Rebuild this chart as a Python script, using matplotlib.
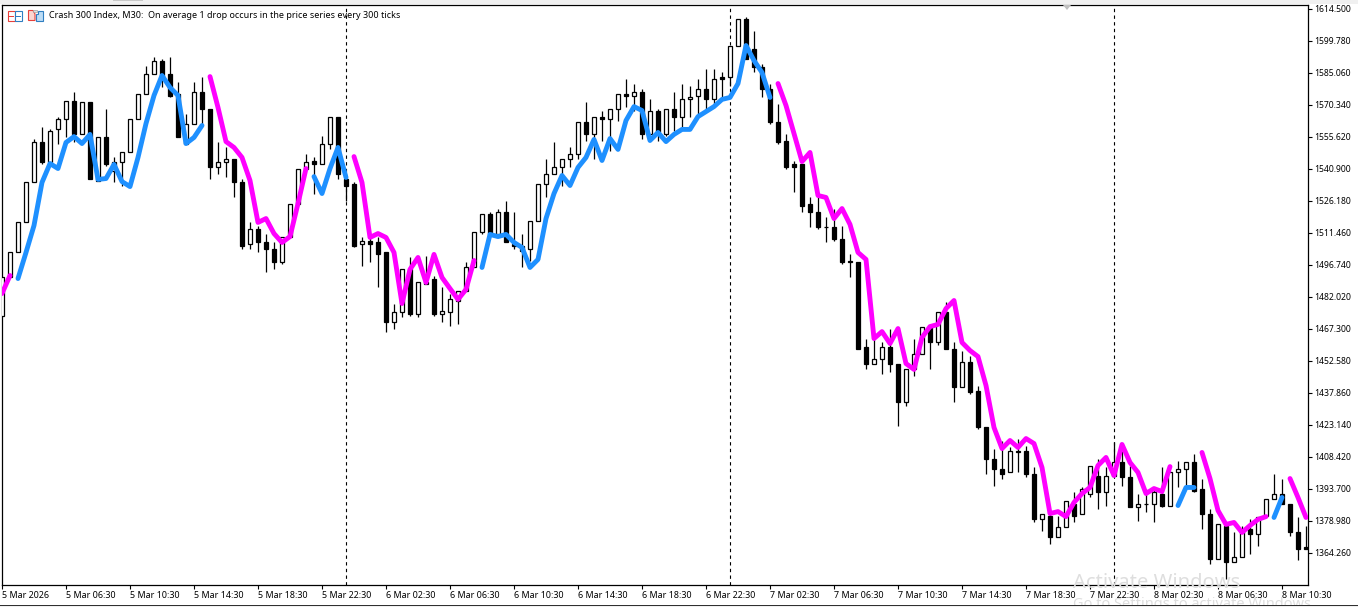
"""Crash 300 Index M30 candles with the two-colour trend line, MT5 look."""

import matplotlib
matplotlib.use("Agg")
import matplotlib.pyplot as plt
from matplotlib.patches import Polygon, Rectangle
from matplotlib.transforms import Affine2D

W, H = 1358, 607
FONT = "Noto Sans"
UP_BLUE = "#1e90ff"
DOWN_MAGENTA = "#ff00ff"

opens = [
    1473.4, 1490.9, 1502.4, 1516.2, 1534.6, 1553.0, 1543.8, 1559.0, 1564.0, 1572.3, 1557.1, 1571.4,
    1535.5, 1555.3, 1540.1, 1544.2, 1548.4, 1564.0, 1575.5, 1584.3, 1590.7, 1584.7, 1575.1, 1552.5,
    1561.3, 1576.4, 1568.2, 1541.9, 1543.8, 1545.2, 1534.6, 1506.1, 1513.0, 1507.4, 1504.2, 1498.2,
    1509.3, 1524.5, 1540.6, 1544.7, 1543.3, 1552.5, 1564.9, 1536.0, 1533.7, 1506.1, 1507.9, 1507.0,
    1502.4, 1470.2, 1474.8, 1494.6, 1474.3, 1488.1, 1490.4, 1474.3, 1475.2, 1480.3, 1484.9, 1495.5,
    1511.6, 1519.9, 1511.1, 1520.8, 1506.5, 1505.6, 1504.2, 1517.1, 1534.1, 1538.3, 1541.5, 1545.2,
    1547.9, 1562.6, 1557.1, 1564.5, 1563.6, 1568.6, 1575.1, 1574.6, 1576.0, 1557.1, 1567.7, 1557.1,
    1568.2, 1564.5, 1573.2, 1574.6, 1577.8, 1572.8, 1582.9, 1582.9, 1597.6, 1609.6, 1595.8, 1587.9,
    1577.4, 1562.6, 1553.9, 1542.9, 1542.9, 1524.5, 1521.2, 1514.3, 1514.3, 1508.8, 1498.7, 1498.2,
    1458.7, 1451.3, 1453.6, 1458.7, 1451.3, 1433.4, 1448.6, 1455.5, 1467.9, 1461.0, 1474.8, 1458.2,
    1440.7, 1452.2, 1438.9, 1422.3, 1407.6, 1403.0, 1401.2, 1411.3, 1411.3, 1400.7, 1379.6, 1381.4,
    1371.3, 1376.3, 1386.9, 1382.3, 1391.5, 1399.8, 1392.0, 1399.8, 1406.2, 1399.3, 1385.5, 1386.9,
    1386.9, 1391.5, 1386.0, 1401.2, 1402.6, 1405.8, 1393.4, 1382.3, 1361.6, 1376.8, 1360.2, 1362.1,
    1375.0, 1373.1, 1381.4, 1388.8, 1391.5, 1386.9, 1374.0, 1366.7,
]
highs = [
    1490.9, 1502.4, 1516.2, 1534.6, 1554.4, 1559.9, 1559.4, 1564.9, 1572.3, 1576.0, 1571.4, 1571.4,
    1555.3, 1568.2, 1546.5, 1548.4, 1564.0, 1575.5, 1588.4, 1592.5, 1591.2, 1592.1, 1581.0, 1566.3,
    1581.0, 1582.9, 1568.2, 1553.4, 1551.1, 1545.2, 1536.4, 1516.2, 1514.8, 1510.7, 1507.0, 1509.7,
    1524.5, 1540.6, 1547.5, 1546.1, 1556.2, 1564.5, 1564.9, 1538.7, 1534.6, 1509.3, 1509.3, 1509.3,
    1502.4, 1478.9, 1494.6, 1500.1, 1489.0, 1501.0, 1491.8, 1486.3, 1483.5, 1484.9, 1498.2, 1512.0,
    1519.9, 1521.2, 1522.6, 1526.3, 1521.2, 1510.7, 1517.1, 1534.1, 1545.6, 1553.4, 1545.2, 1550.7,
    1562.6, 1571.8, 1564.5, 1567.7, 1568.6, 1575.1, 1582.0, 1580.1, 1577.8, 1573.2, 1568.6, 1568.2,
    1576.4, 1579.7, 1579.2, 1582.4, 1587.0, 1586.6, 1585.6, 1597.6, 1609.6, 1610.9, 1604.5, 1589.3,
    1579.7, 1570.5, 1556.7, 1544.7, 1542.9, 1528.1, 1528.6, 1518.5, 1522.6, 1514.8, 1501.9, 1498.2,
    1462.8, 1465.1, 1461.0, 1467.4, 1451.3, 1448.6, 1462.8, 1468.3, 1468.8, 1474.8, 1479.4, 1461.0,
    1457.3, 1455.0, 1441.2, 1422.3, 1412.2, 1415.9, 1412.7, 1416.8, 1413.6, 1403.9, 1382.3, 1381.9,
    1381.4, 1388.3, 1392.4, 1394.3, 1404.4, 1407.6, 1403.5, 1415.0, 1413.6, 1404.4, 1391.5, 1393.8,
    1393.8, 1403.5, 1402.1, 1406.7, 1405.8, 1409.5, 1398.4, 1384.2, 1377.3, 1378.2, 1374.0, 1376.8,
    1379.6, 1380.9, 1389.2, 1400.7, 1398.4, 1386.9, 1380.9, 1376.8,
]
lows = [
    1473.4, 1490.9, 1502.4, 1516.2, 1534.6, 1542.9, 1543.3, 1552.5, 1555.3, 1553.0, 1557.1, 1536.0,
    1535.5, 1542.4, 1534.6, 1533.2, 1548.4, 1564.0, 1575.5, 1584.3, 1578.3, 1574.1, 1555.7, 1552.5,
    1561.3, 1560.8, 1536.4, 1538.7, 1536.9, 1527.7, 1503.8, 1503.8, 1502.4, 1493.2, 1495.0, 1496.9,
    1509.3, 1524.5, 1540.6, 1529.5, 1543.3, 1549.8, 1536.4, 1526.3, 1505.1, 1496.4, 1498.2, 1486.7,
    1466.0, 1467.4, 1472.9, 1473.4, 1472.9, 1488.1, 1473.4, 1470.2, 1468.8, 1469.3, 1484.9, 1495.5,
    1510.7, 1511.1, 1511.1, 1507.0, 1504.2, 1495.9, 1498.7, 1517.1, 1527.7, 1538.3, 1533.2, 1541.5,
    1545.6, 1553.9, 1545.2, 1553.9, 1549.3, 1563.1, 1569.1, 1567.7, 1554.4, 1557.1, 1553.9, 1556.2,
    1558.5, 1559.4, 1564.5, 1566.3, 1568.6, 1570.0, 1573.2, 1579.2, 1597.6, 1591.2, 1585.6, 1574.1,
    1561.3, 1552.1, 1540.6, 1530.4, 1521.2, 1513.9, 1513.0, 1507.4, 1507.9, 1497.3, 1491.3, 1457.8,
    1449.0, 1451.3, 1446.7, 1447.6, 1422.8, 1432.0, 1445.8, 1455.5, 1449.0, 1460.0, 1457.8, 1433.8,
    1440.7, 1437.5, 1421.0, 1400.3, 1395.2, 1398.4, 1401.2, 1401.2, 1399.3, 1378.2, 1374.5, 1368.5,
    1371.3, 1376.3, 1378.2, 1382.3, 1389.7, 1384.6, 1386.0, 1399.8, 1395.2, 1385.1, 1379.1, 1382.8,
    1378.2, 1385.1, 1386.0, 1394.3, 1395.2, 1392.4, 1375.4, 1359.3, 1361.6, 1352.0, 1359.8, 1362.1,
    1363.9, 1367.6, 1381.4, 1388.8, 1386.5, 1372.2, 1361.1, 1365.8,
]
closes = [
    1490.9, 1502.4, 1516.2, 1534.6, 1553.0, 1543.8, 1558.5, 1564.0, 1572.3, 1556.7, 1571.4, 1536.0,
    1555.3, 1542.9, 1544.2, 1548.4, 1564.0, 1575.5, 1584.3, 1590.7, 1582.9, 1574.6, 1555.7, 1561.3,
    1576.4, 1568.2, 1541.5, 1543.8, 1545.2, 1534.6, 1505.6, 1513.0, 1507.0, 1503.8, 1498.2, 1509.3,
    1524.5, 1540.6, 1544.2, 1542.9, 1552.5, 1564.5, 1538.3, 1533.2, 1505.6, 1507.9, 1506.5, 1501.9,
    1470.2, 1474.8, 1494.6, 1474.3, 1489.0, 1489.0, 1473.9, 1475.7, 1480.8, 1484.9, 1495.9, 1512.0,
    1519.9, 1511.1, 1520.8, 1507.0, 1505.6, 1503.3, 1517.1, 1534.1, 1538.3, 1541.9, 1545.2, 1547.9,
    1562.6, 1557.1, 1564.5, 1563.6, 1568.6, 1575.1, 1574.6, 1576.0, 1557.1, 1567.7, 1558.0, 1568.2,
    1564.5, 1573.2, 1574.1, 1577.8, 1572.8, 1582.4, 1582.0, 1597.6, 1609.6, 1591.6, 1587.5, 1577.4,
    1562.2, 1553.4, 1541.9, 1541.9, 1524.0, 1520.8, 1513.9, 1513.9, 1508.4, 1498.2, 1497.8, 1458.2,
    1451.3, 1453.6, 1458.7, 1451.3, 1433.4, 1448.6, 1455.5, 1467.9, 1461.0, 1474.8, 1457.8, 1440.7,
    1452.2, 1438.4, 1421.9, 1407.2, 1402.6, 1400.7, 1411.3, 1410.8, 1400.3, 1379.6, 1382.3, 1371.3,
    1376.3, 1388.3, 1381.4, 1393.8, 1404.4, 1392.0, 1399.8, 1406.2, 1398.9, 1385.5, 1386.9, 1386.5,
    1392.4, 1386.0, 1401.2, 1402.6, 1405.8, 1392.9, 1382.3, 1361.6, 1377.3, 1360.2, 1362.1, 1373.6,
    1372.7, 1380.9, 1389.2, 1391.5, 1386.9, 1373.6, 1366.2, 1366.2,
]

trend = [
    1483.5, 1491.8, 1490.4, 1502.4, 1514.8, 1534.6, 1543.3, 1541.0, 1553.0, 1555.7, 1552.5, 1556.7,
    1536.0, 1536.4, 1542.9, 1535.0, 1532.7, 1546.1, 1561.7, 1574.6, 1583.8, 1578.3, 1574.6, 1552.5,
    1555.3, 1560.8, 1583.3, 1569.1, 1553.4, 1550.7, 1546.1, 1535.5, 1516.2, 1518.0, 1511.1, 1507.0,
    1509.7, 1524.9, 1541.0, 1537.3, 1529.5, 1541.0, 1550.7, 1536.9, 1546.5, 1534.6, 1509.3, 1511.1,
    1509.3, 1502.4, 1478.9, 1494.6, 1500.1, 1488.6, 1501.5, 1490.9, 1485.8, 1480.8, 1485.4, 1498.7,
    1495.5, 1510.7, 1509.7, 1510.7, 1507.0, 1504.7, 1495.5, 1499.2, 1518.0, 1529.5, 1537.8, 1533.2,
    1541.5, 1546.1, 1554.4, 1544.7, 1554.8, 1549.8, 1563.1, 1569.5, 1567.7, 1553.9, 1557.6, 1553.4,
    1556.7, 1559.0, 1559.0, 1564.9, 1567.2, 1569.5, 1572.8, 1573.7, 1580.1, 1597.6, 1590.7, 1585.2,
    1573.7, 1580.1, 1570.0, 1557.1, 1544.2, 1548.4, 1528.6, 1527.7, 1518.0, 1522.6, 1515.3, 1502.4,
    1499.2, 1462.8, 1466.0, 1460.5, 1467.4, 1451.3, 1448.6, 1463.3, 1468.3, 1469.3, 1476.6, 1480.3,
    1461.0, 1457.3, 1454.5, 1441.2, 1421.9, 1412.2, 1415.9, 1412.7, 1416.8, 1414.5, 1403.5, 1382.3,
    1383.2, 1380.9, 1387.4, 1391.5, 1394.3, 1404.4, 1408.1, 1399.8, 1414.1, 1405.8, 1401.2, 1391.5,
    1393.8, 1392.4, 1403.9, 1386.0, 1394.3, 1394.3, 1410.4, 1398.4, 1383.7, 1377.3, 1378.2, 1373.6,
    1376.8, 1379.6, 1380.9, 1380.5, 1389.7, 1398.4, 1389.7, 1380.5,
]
# first bar of each coloured run of the trend line
seg_starts = [0, 2, 26, 39, 44, 60, 97, 147, 150, 159, 161]
seg_colors = [DOWN_MAGENTA, UP_BLUE, DOWN_MAGENTA, UP_BLUE, DOWN_MAGENTA, UP_BLUE,
              DOWN_MAGENTA, UP_BLUE, DOWN_MAGENTA, UP_BLUE, DOWN_MAGENTA]

period_bars = [43, 91, 139]

price_ticks = [1614.50, 1599.78, 1585.06, 1570.34, 1555.62, 1540.90, 1526.18, 1511.46, 1496.74,
               1482.02, 1467.30, 1452.58, 1437.86, 1423.14, 1408.42, 1393.70, 1378.98, 1364.26]
time_labels = ["5 Mar 2026", "5 Mar 06:30", "5 Mar 10:30", "5 Mar 14:30", "5 Mar 18:30", "5 Mar 22:30",
               "6 Mar 02:30", "6 Mar 06:30", "6 Mar 10:30", "6 Mar 14:30", "6 Mar 18:30", "6 Mar 22:30",
               "7 Mar 02:30", "7 Mar 06:30", "7 Mar 10:30", "7 Mar 14:30", "7 Mar 18:30", "7 Mar 22:30",
               "8 Mar 02:30", "8 Mar 06:30", "8 Mar 10:30"]
title = "Crash 300 Index, M30:  On average 1 drop occurs in the price series every 300 ticks"

fig = plt.figure(figsize=(W / 100, H / 100), dpi=100, facecolor="white")

# screen pixels, y going down, for the terminal chrome
px = Affine2D().scale(1, -1).translate(0, H)

ax = fig.add_axes([2.0 / W, 1 - 584.5 / H, (1308.0 - 2.0) / W, (584.5 - 4.5) / H])
ax.set_xlim(0, (1308.0 - 2.0) / 8)
ax.set_ylim(1349.66, 1616.46)
ax.patch.set_alpha(0)

# ---------------------------------------------------------------
# Candles
# ---------------------------------------------------------------
bars = range(len(opens))
ax.vlines(bars, lows, highs, color="black", lw=0.9, zorder=2)
for i in bars:
    up = closes[i] >= opens[i]
    ax.bar(i, abs(closes[i] - opens[i]), bottom=min(opens[i], closes[i]), width=0.5,
           facecolor="white" if up else "black", edgecolor="black", lw=0.9, zorder=3)

for b in period_bars:
    ax.axvline(b, color="black", lw=0.8, dashes=(3, 3), zorder=1)

# ---------------------------------------------------------------
# Trend line, broken where the colour flips
# ---------------------------------------------------------------
ends = seg_starts[1:] + [len(trend)]
for start, end, col in zip(seg_starts, ends, seg_colors):
    ax.plot(range(start, end), trend[start:end], color=col, lw=3.5, zorder=4,
            solid_capstyle="round", solid_joinstyle="round")

# ---------------------------------------------------------------
# Axes
# ---------------------------------------------------------------
for s in ax.spines.values():
    s.set_linewidth(0.9)
ax.yaxis.tick_right()
ax.set_yticks(price_ticks)
ax.set_yticklabels([f"{p:.3f}" for p in price_ticks], fontsize=6.2, family=FONT)
ax.set_xticks(range(0, len(time_labels) * 8, 8))
ax.set_xticklabels(time_labels, fontsize=6.45, family=FONT, ha="left")
ax.tick_params(axis="y", length=3.2, width=0.8, pad=1.5)
ax.tick_params(axis="x", length=3.2, width=0.8, pad=1.5)

fig.text(49 / W, 1 - 16 / H, title, fontsize=6.47, family=FONT, va="center", ha="left")

# ---------------------------------------------------------------
# Terminal chrome: toolbar strip, icons, window edge, watermark
# ---------------------------------------------------------------
fig.add_artist(Rectangle((0, 0), W, 4, transform=px, fc="#f0f0f0", ec="none"))
fig.add_artist(Rectangle((113, 0), 30, 1, transform=px, fc="#c8c8c8", ec="none"))
fig.add_artist(Polygon([(1063, 5), (1071, 5), (1067, 10)], transform=px, fc="#c0c0c0", ec="none"))

fig.add_artist(Rectangle((7.5, 10.5), 7, 10, transform=px, fc="white", ec="#e8403a", lw=0.8))
fig.add_artist(Rectangle((14.5, 10.5), 7, 10, transform=px, fc="white", ec="#2f7fc1", lw=0.8))
for yy in (13.5, 16, 18.5):
    fig.add_artist(Rectangle((9, yy), 5, 0.8, transform=px, fc="#e8403a", ec="none"))
    fig.add_artist(Rectangle((16, yy), 5, 0.8, transform=px, fc="#2f7fc1", ec="none"))
fig.add_artist(Polygon([(28.5, 10.5), (33, 10.5), (35, 14), (35, 20.5), (28.5, 20.5)], transform=px,
                       fc="#fbd5d0", ec="#e8403a", lw=0.8))
fig.add_artist(Polygon([(36, 14), (38, 14), (38, 10.5), (42.5, 10.5), (42.5, 20.5), (36, 20.5)],
                       transform=px, fc="#bcdcf5", ec="#2f7fc1", lw=0.8))
fig.add_artist(Rectangle((33, 10), 4, 2, transform=px, fc="#e0e0e0", ec="#a0a0a0", lw=0.5))

fig.text(1073 / W, 1 - 583 / H, "Activate Windows", fontsize=14.5, family=FONT, color="#dedede",
         va="center", ha="left", zorder=5)
fig.text(1073 / W, 1 - 604 / H, "Go to Settings to activate Windows.", fontsize=10.5, family=FONT,
         color="#dedede", va="center", ha="left", zorder=5)
fig.add_artist(Rectangle((0, 605), W, 1, transform=px, fc="#303030", ec="none", zorder=6))
fig.add_artist(Rectangle((0, 606), W, 1, transform=px, fc="#f0f0f0", ec="none", zorder=6))

fig.savefig("out.png", dpi=100)
